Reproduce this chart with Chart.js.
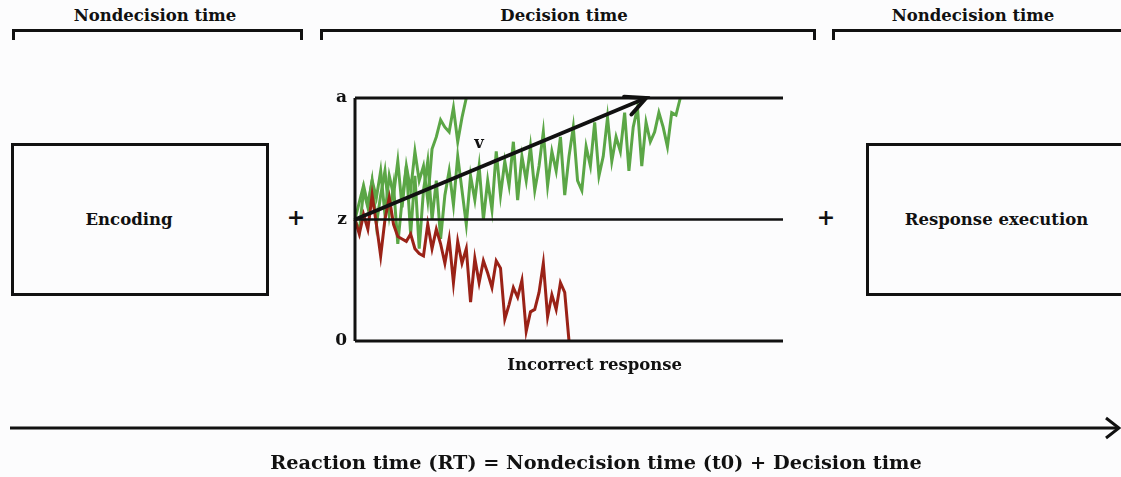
<!DOCTYPE html>
<html>
<head>
<meta charset="utf-8">
<script src="https://cdn.jsdelivr.net/npm/chart.js@4/dist/chart.umd.min.js"></script>
<style>
  body { margin: 0; background: #fcfcfd; }
  #wrap { position: relative; width: 1121px; height: 477px; overflow: hidden; background: #fcfcfd;
          font-family: "DejaVu Serif", serif; font-weight: bold; color: #111; }
  #c { position: absolute; left: 0; top: 0; }
  .lbl { position: absolute; white-space: nowrap; transform: translateX(-50%); }
  .hd { font-size: 16.5px; top: 6px; }
  .br { position: absolute; top: 29px; height: 8px; border: 3px solid #111; border-bottom: none; }
  .box { position: absolute; top: 143px; height: 147px; border: 3px solid #111;
         display: flex; align-items: center; justify-content: center; font-size: 16.5px; }
  .plus { position: absolute; font-size: 22px; top: 204px; transform: translateX(-50%); }
  #formula { left: 596px; top: 451px; font-size: 19.3px; }
</style>
</head>
<body>
<div id="wrap">
  <div class="lbl hd" style="left:155px">Nondecision time</div>
  <div class="lbl hd" style="left:564px">Decision time</div>
  <div class="lbl hd" style="left:973px">Nondecision time</div>
  <div class="br" style="left:12px; width:285px"></div>
  <div class="br" style="left:320px; width:490px"></div>
  <div class="br" style="left:832px; width:300px; border-right:none"></div>

  <div class="box" style="left:11px; width:252px; box-sizing:content-box; padding-right:0">
    <span style="margin-right:22px">Encoding</span></div>
  <div class="box" style="left:866px; width:255px; border-right:none">Response execution</div>
  <div class="plus" style="left:296px">+</div>
  <div class="plus" style="left:826px">+</div>

  <canvas id="c" width="1121" height="477"></canvas>

  <svg style="position:absolute;left:0;top:0" width="1121" height="477">
    <line x1="10" y1="428" x2="1118" y2="428" stroke="#111" stroke-width="3"/>
    <polyline points="1106,418 1119,428 1106,438" fill="none" stroke="#111" stroke-width="3"/>
  </svg>
  <div class="lbl" id="formula">Reaction time (RT) = Nondecision time (t0) + Decision time</div>
</div>

<script>
// evidence scale: 0 = lower bound, a = upper bound, z = start point
var boundA = 100;
var startZ = 50;
var tMax = 100;
var driftEnd = 68;   // time step where v reaches a

// fast correct walk (green)
var walkFast = [50, 57, 64, 56, 66, 59, 70, 52, 68, 60, 74, 55, 72, 62, 78, 66, 72, 58, 79, 84,
                91, 88, 86, 96, 82, 92, 100];

// slow correct walk (green)
var walkSlow = [50, 45, 62, 55, 66, 48, 60, 70, 52, 64, 40,
                58, 72, 44, 68, 38, 62, 74, 50, 66, 42,
                60, 70, 56, 76, 62, 48, 68, 58, 72, 50,
                66, 54, 78, 60, 74, 64, 82, 58, 76, 66,
                80, 62, 72, 86, 64, 78, 70, 84, 60, 76,
                88, 66, 62, 80, 72, 90, 68, 76, 92, 74,
                84, 78, 94, 70, 88, 96, 72, 90, 82, 86,
                94, 88, 80, 94, 93, 100];

// incorrect walk (red)
var walkWrong = [50, 44, 52, 46, 60, 48, 35, 50, 59, 48, 43,
                 42, 41, 44, 38, 36, 35, 48, 38, 46, 40,
                 32, 42, 24, 41, 32, 38, 16, 34, 24, 33,
                 28, 22, 33, 30, 9, 15, 22, 18, 25, 4,
                 12, 13, 20, 32, 10, 19, 13, 24, 20, 0];

function toPts(arr) {
  return arr.map(function (v, i) { return { x: i, y: v }; });
}
function hline(v) {
  return [{ x: 0, y: v }, { x: tMax, y: v }];
}

var black = '#111111';
var green = '#5ba646';
var red = '#9a2217';

var labelsPlugin = {
  id: 'ddmLabels',
  afterDatasetsDraw: function (chart) {
    var ctx = chart.ctx;
    var xs = chart.scales.x, ys = chart.scales.y;
    ctx.save();
    ctx.fillStyle = black;
    ctx.font = 'bold 17px "DejaVu Serif", serif';
    ctx.textBaseline = 'middle';
    ctx.textAlign = 'right';
    var x0 = xs.getPixelForValue(0) - 8;
    ctx.fillText('a', x0, ys.getPixelForValue(boundA));
    ctx.fillText('z', x0, ys.getPixelForValue(startZ));
    ctx.fillText('0', x0, ys.getPixelForValue(0));
    ctx.textAlign = 'center';
    ctx.font = 'bold 16.5px "DejaVu Serif", serif';
    ctx.fillText('v', xs.getPixelForValue(29), ys.getPixelForValue(81));
    ctx.fillText('Incorrect response', xs.getPixelForValue(56), ys.getPixelForValue(0) + 25);

    // arrowhead on the drift line
    var meta = chart.getDatasetMeta(4);
    var p0 = meta.data[0], p1 = meta.data[1];
    var ang = Math.atan2(p1.y - p0.y, p1.x - p0.x);
    var len = 22;
    ctx.strokeStyle = black;
    ctx.lineWidth = 4;
    ctx.lineCap = 'round';
    ctx.beginPath();
    ctx.moveTo(p1.x - len * Math.cos(ang - 0.45), p1.y - len * Math.sin(ang - 0.45));
    ctx.lineTo(p1.x, p1.y);
    ctx.lineTo(p1.x - len * Math.cos(ang + 0.45), p1.y - len * Math.sin(ang + 0.45));
    ctx.stroke();
    ctx.restore();
  }
};

function ds(data, color, width) {
  return { data: data, borderColor: color, borderWidth: width, pointRadius: 0,
           fill: false, tension: 0, clip: false };
}

new Chart(document.getElementById('c'), {
  type: 'line',
  data: {
    datasets: [
      ds(hline(boundA), black, 3),
      ds(hline(startZ), black, 2.5),
      ds(hline(0), black, 3),
      ds([{ x: 0, y: 0 }, { x: 0, y: boundA }], black, 3),
      ds([{ x: 0, y: startZ }, { x: driftEnd, y: boundA }], black, 4),
      ds(toPts(walkWrong), red, 3),
      ds(toPts(walkSlow), green, 3),
      ds(toPts(walkFast), green, 3)
    ]
  },
  options: {
    responsive: false,
    animation: false,
    layout: { padding: { left: 355, right: 338, top: 98, bottom: 136 } },
    plugins: { legend: { display: false }, tooltip: { enabled: false } },
    scales: {
      x: { type: 'linear', min: 0, max: tMax, display: false },
      y: { min: 0, max: boundA, display: false }
    }
  },
  plugins: [labelsPlugin]
});
</script>
</body>
</html>
